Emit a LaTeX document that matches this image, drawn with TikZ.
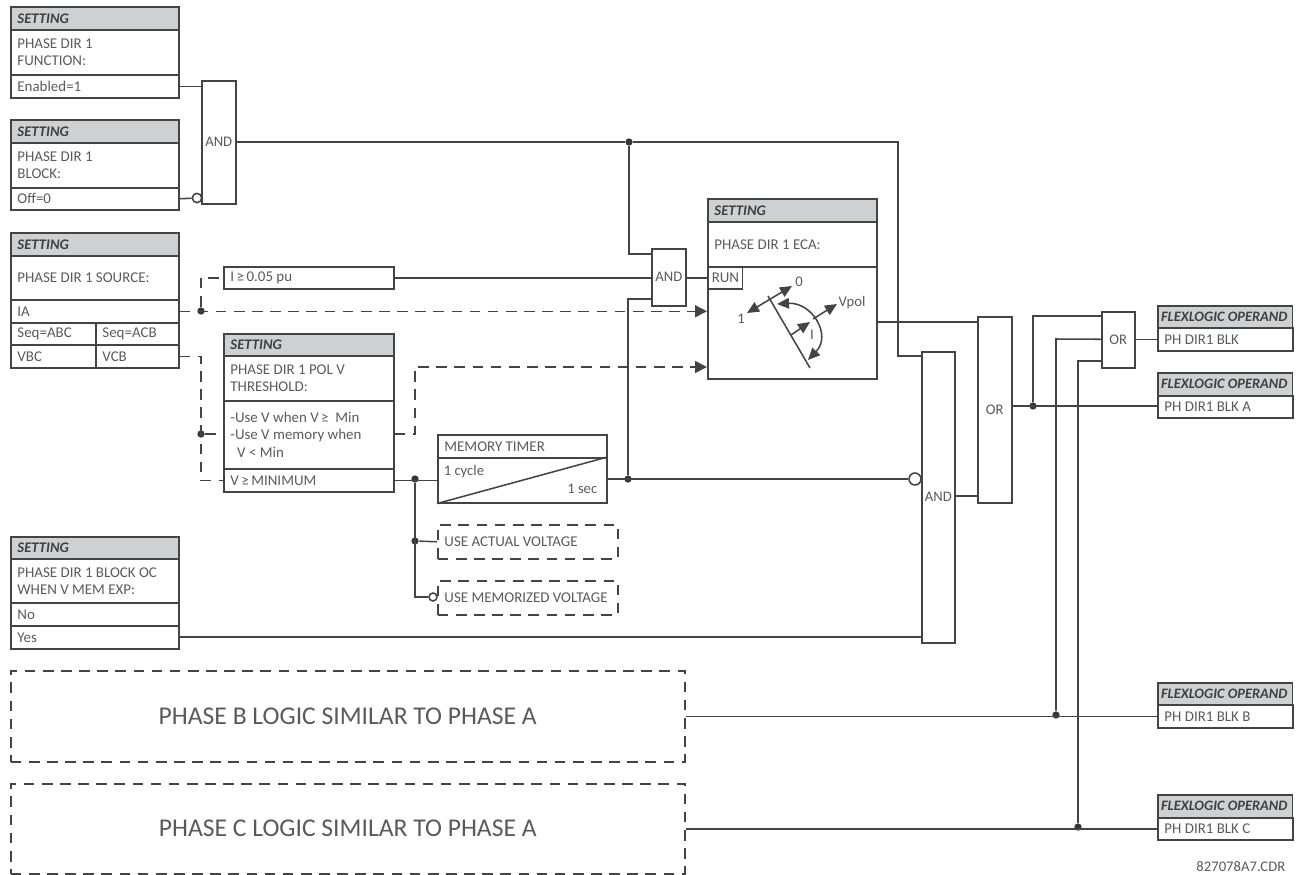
\documentclass[tikz,border=0pt]{standalone}
\usepackage{fontspec}
\setmainfont{Carlito}
\usetikzlibrary{arrows.meta,positioning,calc}
\definecolor{ink}{HTML}{444444}
\definecolor{txtgray}{HTML}{5A5A5A}
\definecolor{hdrgray}{HTML}{CFD0D1}

\begin{document}
\begin{tikzpicture}[
    x=0.75pt, y=-0.75pt, ink, line width=1.15pt,
    cell/.style 2 args={draw=ink, anchor=north west, inner xsep=5pt, inner ysep=0pt,
        text width=(#1*0.75pt-10pt), minimum height=#2*0.75pt, align=flush left, text=txtgray,
        font=\fontsize{11.2}{12.8}\selectfont},
    head/.style={fill=hdrgray, text=black!75, font=\fontsize{11}{12}\selectfont\bfseries\itshape},
    ophead/.style={head, inner xsep=2.5pt, text width=96pt, font=\fontsize{10.8}{12}\selectfont\bfseries\itshape},
    gate/.style 2 args={draw=ink, anchor=north west, inner sep=0pt, minimum width=#1*0.75pt,
        minimum height=#2*0.75pt, align=center, text=txtgray, font=\fontsize{11}{12}\selectfont},
    ghost/.style={dash pattern=on 8pt off 5.6pt},
    big/.style={align=flush center, font=\fontsize{19.2}{22}\selectfont},
    dot/.style={circle, fill=ink!80!black, inner sep=0pt, minimum size=5.5pt},
    bub/.style={circle, fill=white, draw=ink, inner sep=0pt, minimum size=#1},
    channel/.style={-{Triangle[length=9pt,width=9pt]}, ghost},
    dialend/.style={-{Triangle[length=9pt,width=8pt]}},
    dial/.style={{Triangle[length=9pt,width=8pt]}-{Triangle[length=9pt,width=8pt]}},
    diallabel/.style={text=txtgray, inner sep=0pt, font=\fontsize{11}{12}\selectfont}
]
\useasboundingbox (0,0) rectangle (1297,875);

% Function and block settings
\node[cell={168}{23}, head] (fn_head) at (10,6) {SETTING};
\node[cell={168}{45}] (fn_name) at (10,29) {PHASE DIR 1\\FUNCTION:};
\node[cell={168}{23}] (fn_val) at (10,74) {Enabled=1};
\node[cell={168}{23}, head] (blk_head) at (10,119) {SETTING};
\node[cell={168}{45}] (blk_name) at (10,142) {PHASE DIR 1\\BLOCK:};
\node[cell={168}{22}] (blk_val) at (10,187) {Off=0};

% Source setting
\node[cell={168}{23}, head] (src_head) at (10,232) {SETTING};
\node[cell={168}{44}] (src_name) at (10,255) {PHASE DIR 1 SOURCE:};
\node[cell={168}{23}] (src_ia) at (10,299) {IA};
\node[cell={85}{22}] (src_abc) at (10,322) {Seq=ABC};
\node[cell={83}{22}] (src_acb) at (95,322) {Seq=ACB};
\node[cell={85}{23}] (src_vbc) at (10,344) {VBC};
\node[cell={83}{23}] (src_vcb) at (95,344) {VCB};

% Polarizing threshold setting and memory timer
\node[cell={170}{22}] (cur) at (223,266) {I\,≥\,0.05 pu};
\node[cell={170}{22}, head] (pol_head) at (223,333) {SETTING};
\node[cell={170}{45}] (pol_name) at (223,355) {PHASE DIR 1 POL V\\THRESHOLD:};
\node[cell={170}{68}] (pol_use) at (223,400) {-Use V when V\,≥\ \ Min\\-Use V memory when\\\ \ V < Min};
\node[cell={170}{23}] (pol_min) at (223,468) {V\,≥\,MINIMUM};
\node[cell={169}{23}] (tm_head) at (437,434) {MEMORY TIMER};
\node[cell={169}{45}] (tm_body) at (437,457) {};
\node[diallabel, anchor=west] (tm_pick) at (443,472) {1 cycle};
\node[diallabel, anchor=east] (tm_drop) at (598,489) {1 sec};
\node[cell={180}{34}, ghost] (use_act) at (437,524) {USE ACTUAL VOLTAGE};
\node[cell={180}{34}, ghost] (use_mem) at (437,580) {USE MEMORIZED VOLTAGE};

% Block OC setting
\node[cell={168}{22}, head] (oc_head) at (10,536) {SETTING};
\node[cell={168}{44}] (oc_name) at (10,558) {PHASE DIR 1 BLOCK OC\\WHEN V MEM EXP:};
\node[cell={168}{23}] (oc_no) at (10,602) {No};
\node[cell={168}{23}] (oc_yes) at (10,625) {Yes};

% Element setting
\node[cell={169}{23}, head] (eca_head) at (707,198) {SETTING};
\node[cell={169}{45}] (eca_name) at (707,221) {PHASE DIR 1 ECA:};
\node[cell={169}{112}] (eca_body) at (707,266) {};
\node[cell={34}{22}, inner xsep=3pt, text width=20pt] (eca_run) at (707,266) {RUN};

% Gates
\node[gate={34}{123}] (and_top) at (201,80) {AND};
\node[gate={34}{57}] (and_run) at (651,248) {AND};
\node[gate={33}{291}] (and_low) at (921,351) {AND};
\node[gate={34}{186}] (or_a) at (977,316) {OR};
\node[gate={33}{56}] (or_all) at (1101,311) {OR};

% Other phases
\node[cell={674}{91}, ghost, big] (ph_b) at (10,670) {PHASE B LOGIC SIMILAR TO PHASE A};
\node[cell={674}{90}, ghost, big] (ph_c) at (10,783) {PHASE C LOGIC SIMILAR TO PHASE A};

% Operands
\node[cell={135}{22}, ophead] (op_head) at (1157,305) {FLEXLOGIC OPERAND};
\node[cell={135}{23}] (op) at (1157,327) {PH DIR1 BLK};
\node[cell={135}{23}, ophead] (opa_head) at (1157,372) {FLEXLOGIC OPERAND};
\node[cell={135}{22}] (opa) at (1157,395) {PH DIR1 BLK A};
\node[cell={135}{22}, ophead] (opb_head) at (1157,682) {FLEXLOGIC OPERAND};
\node[cell={135}{23}] (opb) at (1157,704) {PH DIR1 BLK B};
\node[cell={135}{23}, ophead] (opc_head) at (1157,794) {FLEXLOGIC OPERAND};
\node[cell={135}{22}] (opc) at (1157,817) {PH DIR1 BLK C};
\node[diallabel, anchor=east] (cdr) at (1286,867) {827078A7.CDR};

% Junctions
\node[dot] (j_top) at (629,142) {};
\node[dot] (j_ia) at (201,311) {};
\node[dot] (j_pol) at (201,434) {};
\node[dot] (j_min) at (415,479) {};
\node[dot] (j_act) at (415,541) {};
\node[dot] (j_tm) at (628,479) {};
\node[dot] (j_or) at (1033,406) {};
\node[dot] (j_b) at (1056,715) {};
\node[dot] (j_c) at (1078,827) {};
\node[bub=7pt] (n_off) at (197,198) {};
\node[bub=6pt] (n_mem) at (433,597) {};
\node[bub=9pt] (n_low) at (915,479) {};
\coordinate (eca_v) at (707,367);
\coordinate (bend_pol) at (415,434);

% Solid connectors
\draw (fn_val.east) -- (and_top.west |- fn_val.east);
\draw (blk_val.east) -- (n_off);
\draw (and_top.east |- j_top) -- (j_top);
\draw (j_top) -- (629,254) -- (651,254);
\draw (j_top) -- (898,142) -- (898,356) -- (921,356);
\draw (cur.east) -- (and_run.west |- cur.east);
\draw (and_run.east |- eca_run.west) -- (eca_run.west);
\draw (651,299) -- (j_tm |- 0,299) -- (j_tm);
\draw (pol_min.east) -- (tm_body.west |- pol_min.east);
\draw (j_min) -- (415,597) -- (n_mem);
\draw (j_act) -- (use_act.west);
\draw (tm_body.south west) -- (tm_body.north east);
\draw (tm_body.east |- j_tm) -- (n_low);
\draw (oc_yes.east |- 0,637) -- (921,637);
\draw (eca_body.east |- 0,322) -- (977,322);
\draw (and_low.east |- 0,496) -- (or_a.west |- 0,496);
\draw (or_a.east |- j_or) -- (opa.west |- j_or);
\draw (j_or) -- (1033,316) -- (1101,316);
\draw (or_all.east |- op.west) -- (op.west);
\draw (ph_b.east) -- (opb.west |- ph_b.east);
\draw (ph_c.east) -- (opc.west |- ph_c.east);
\draw (j_b) -- (1056,339) -- (or_all.west |- op.west);
\draw (j_c) -- (1078,361) -- (1101,361);

% Dashed connectors
\draw[channel] (src_ia.east) -- (eca_body.west |- src_ia.east);
\draw[ghost] (j_ia) -- (j_ia |- cur.west) -- (cur.west);
\draw[ghost] (src_vcb.east) -- (j_ia |- src_vcb.east) -- (j_ia |- pol_min.west) -- (pol_min.west);
\draw[ghost] (j_pol) -- (pol_use.west |- j_pol);
\draw[channel] (pol_use.east |- bend_pol) -- (bend_pol) -- (415,367) -- (eca_v);

% Direction dial
\draw (768,296) -- (810,368);
\draw[dial] (792,286) -- (747,313);
\draw[dialend] (791,335) -- (810,322);
\draw[dialend] (813,319) -- (837,304);
\draw[dial] (777,304) .. controls (812,302) and (832,335) .. (808,360);
\node[diallabel] (d_zero) at (799,282) {0};
\node[diallabel] (d_one) at (741,319) {1};
\node[diallabel] (d_vpol) at (852,303) {Vpol};
\node[diallabel] (d_i) at (812,335) {I};
\end{tikzpicture}
\end{document}
